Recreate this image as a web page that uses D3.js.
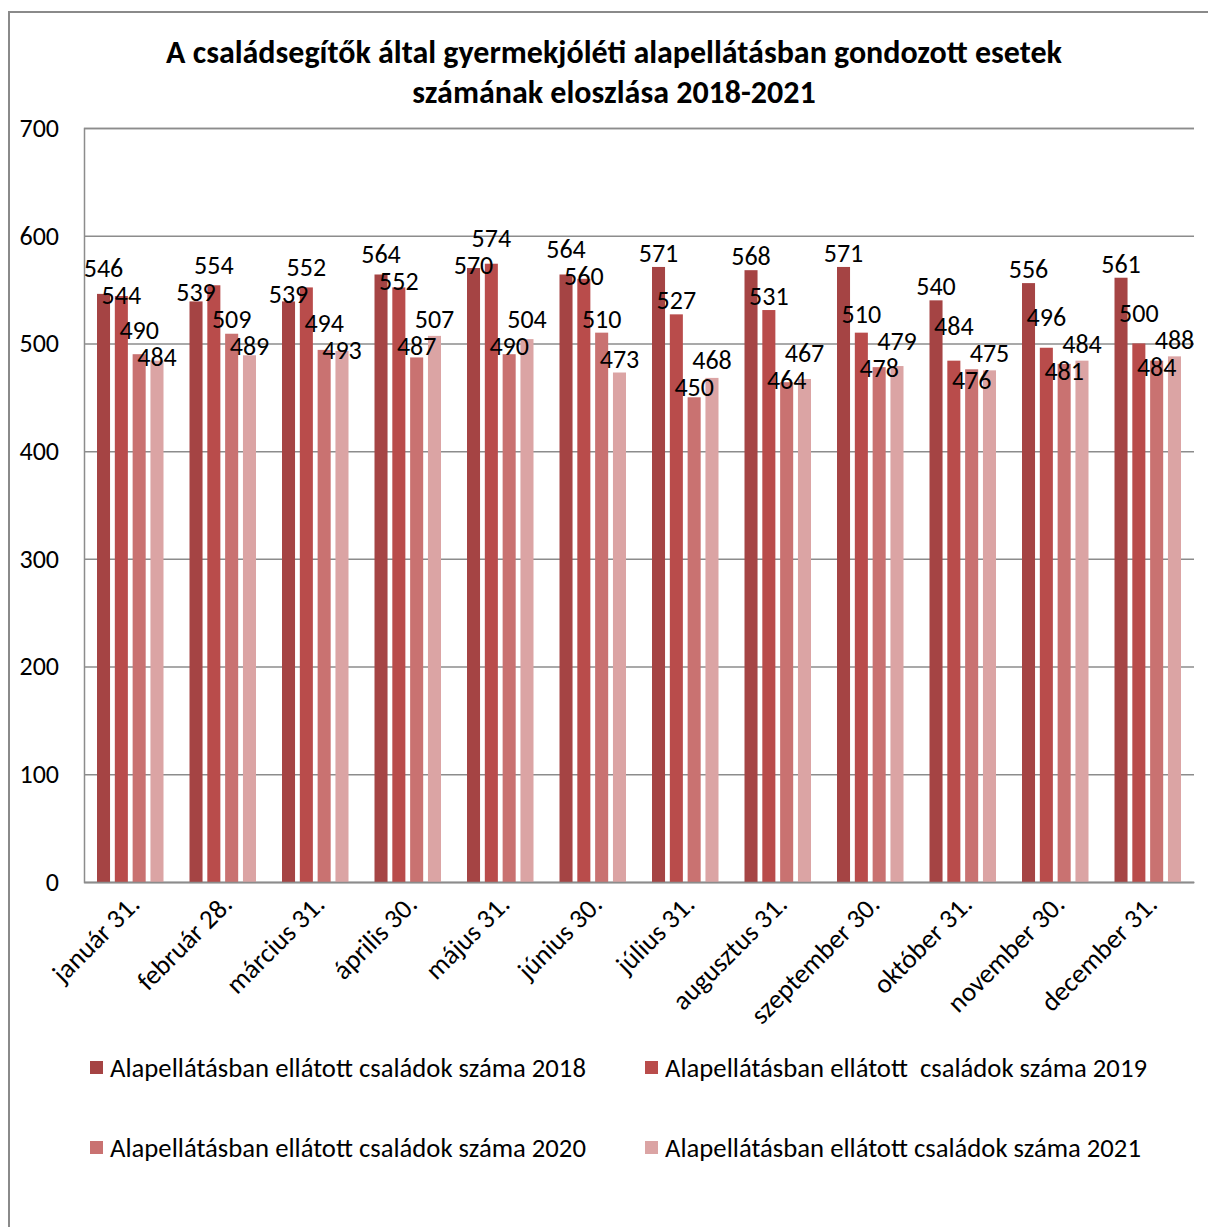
<!DOCTYPE html>
<html><head><meta charset="utf-8">
<script src="https://cdn.jsdelivr.net/npm/d3@7/dist/d3.min.js"></script>
<style>
body{margin:0;background:#fff}
svg text{font-family:Carlito,Lato,"Open Sans",sans-serif;fill:#000}
</style>
</head><body>
<svg id="c" width="1208" height="1227"></svg>
<script>
const months = ["január 31.","február 28.","március 31.","április 30.","május 31.","június 30.","július 31.","augusztus 31.","szeptember 30.","október 31.","november 30.","december 31."];
const seriesNames = ["Alapellátásban ellátott családok száma 2018","Alapellátásban ellátott  családok száma 2019","Alapellátásban ellátott családok száma 2020","Alapellátásban ellátott családok száma 2021"];
const values2018 = [546,539,539,564,570,564,571,568,571,540,556,561];
const values2019 = [544,554,552,552,574,560,527,531,510,484,496,500];
const values2020 = [490,509,494,487,490,510,450,464,478,476,481,484];
const values2021 = [484,489,493,507,504,473,468,467,479,475,484,488];
const yTicks = [0,100,200,300,400,500,600,700];
const titleLines = ["A családsegítők által gyermekjóléti alapellátásban gondozott esetek","számának eloszlása 2018-2021"];
const colors = ["#a54444","#b94c4b","#c97271","#dba4a4"];

const allValues = [values2018,values2019,values2020,values2021];
const svg = d3.select("#c");

// outer chart border
svg.append("rect").attr("x",9).attr("y",12).attr("width",1260).attr("height",1300)
  .attr("fill","none").attr("stroke","#8a8a8a").attr("stroke-width",2);

const L=84,R=1194,T=128,B=882;
const y = d3.scaleLinear().domain([0,700]).range([B,T]);
const x0 = d3.scaleBand().domain(months).range([L,R]).padding(0);
const x1 = d3.scaleBand().domain(seriesNames).range([13,x0.bandwidth()-13]).paddingInner(0.268);

// title
svg.append("g").selectAll("text").data(titleLines).join("text")
  .attr("x",614).attr("y",(d,i)=>63+i*40).attr("text-anchor","middle")
  .attr("font-weight","bold").attr("font-size",32).text(d=>d);

// y axis with gridlines
const ya = svg.append("g").attr("transform",`translate(${L},0)`)
  .call(d3.axisLeft(y).tickValues(yTicks).tickSize(-(R-L)).tickPadding(25));
ya.select(".domain").attr("stroke","#8c8c8c").attr("stroke-width",1.5);
ya.selectAll(".tick line").attr("stroke","#8c8c8c").attr("stroke-width",1.5);
ya.selectAll(".tick text").attr("font-size",26).attr("font-family",null);

// bars
const groups = svg.append("g").selectAll("g").data(months).join("g")
  .attr("transform",d=>`translate(${x0(d)},0)`);
groups.selectAll("rect").data((m,mi)=>seriesNames.map((s,si)=>({s,si,v:allValues[si][mi]})))
  .join("rect")
  .attr("x",d=>x1(d.s)).attr("width",x1.bandwidth())
  .attr("y",d=>y(d.v)).attr("height",d=>B-y(d.v))
  .attr("fill",d=>colors[d.si]);

// x axis
const xa = svg.append("g").attr("transform",`translate(0,${B})`)
  .call(d3.axisBottom(x0).tickSize(0).tickPadding(0));
xa.select(".domain").attr("stroke","#8c8c8c").attr("stroke-width",1.5);
xa.selectAll(".tick text").attr("font-size",27).attr("font-family",null)
  .attr("text-anchor","end").attr("dy",0).attr("y",0)
  .attr("transform","translate(11,24) rotate(-45)");

// data labels with simple collision relaxation within each month group
groups.each(function(m,mi){
  const labs = seriesNames.map((s,si)=>({v:allValues[si][mi], x:x1(s)+x1.bandwidth()/2, y:y(allValues[si][mi])-14}));
  for(let it=0;it<100;it++){
    for(let i=0;i<labs.length;i++)for(let j=i+1;j<labs.length;j++){
      const a=labs[i],b=labs[j];
      if(Math.abs(a.x-b.x)<46){
        const d=b.y-a.y, need=27;
        if(Math.abs(d)<need){
          const push=(need-Math.abs(d))/2*(d>=0?1:-1);
          a.y-=push; b.y+=push;
        }
      }
    }
  }
  d3.select(this).selectAll("text.lab").data(labs).join("text").attr("class","lab")
    .attr("x",d=>d.x).attr("y",d=>d.y).attr("dy","0.35em")
    .attr("text-anchor","middle").attr("font-size",26).text(d=>d.v);
});

// legend
const leg = svg.append("g").selectAll("g").data(seriesNames).join("g")
  .attr("transform",(d,i)=>`translate(${i%2===0?90:645},${1068+Math.floor(i/2)*80})`);
leg.append("rect").attr("x",0).attr("y",-7).attr("width",13).attr("height",13).attr("fill",(d,i)=>colors[i]);
leg.append("text").attr("x",20).attr("y",0).attr("dy","0.35em").attr("font-size",26.7)
  .style("white-space","pre").text(d=>d);
</script>
</body></html>
